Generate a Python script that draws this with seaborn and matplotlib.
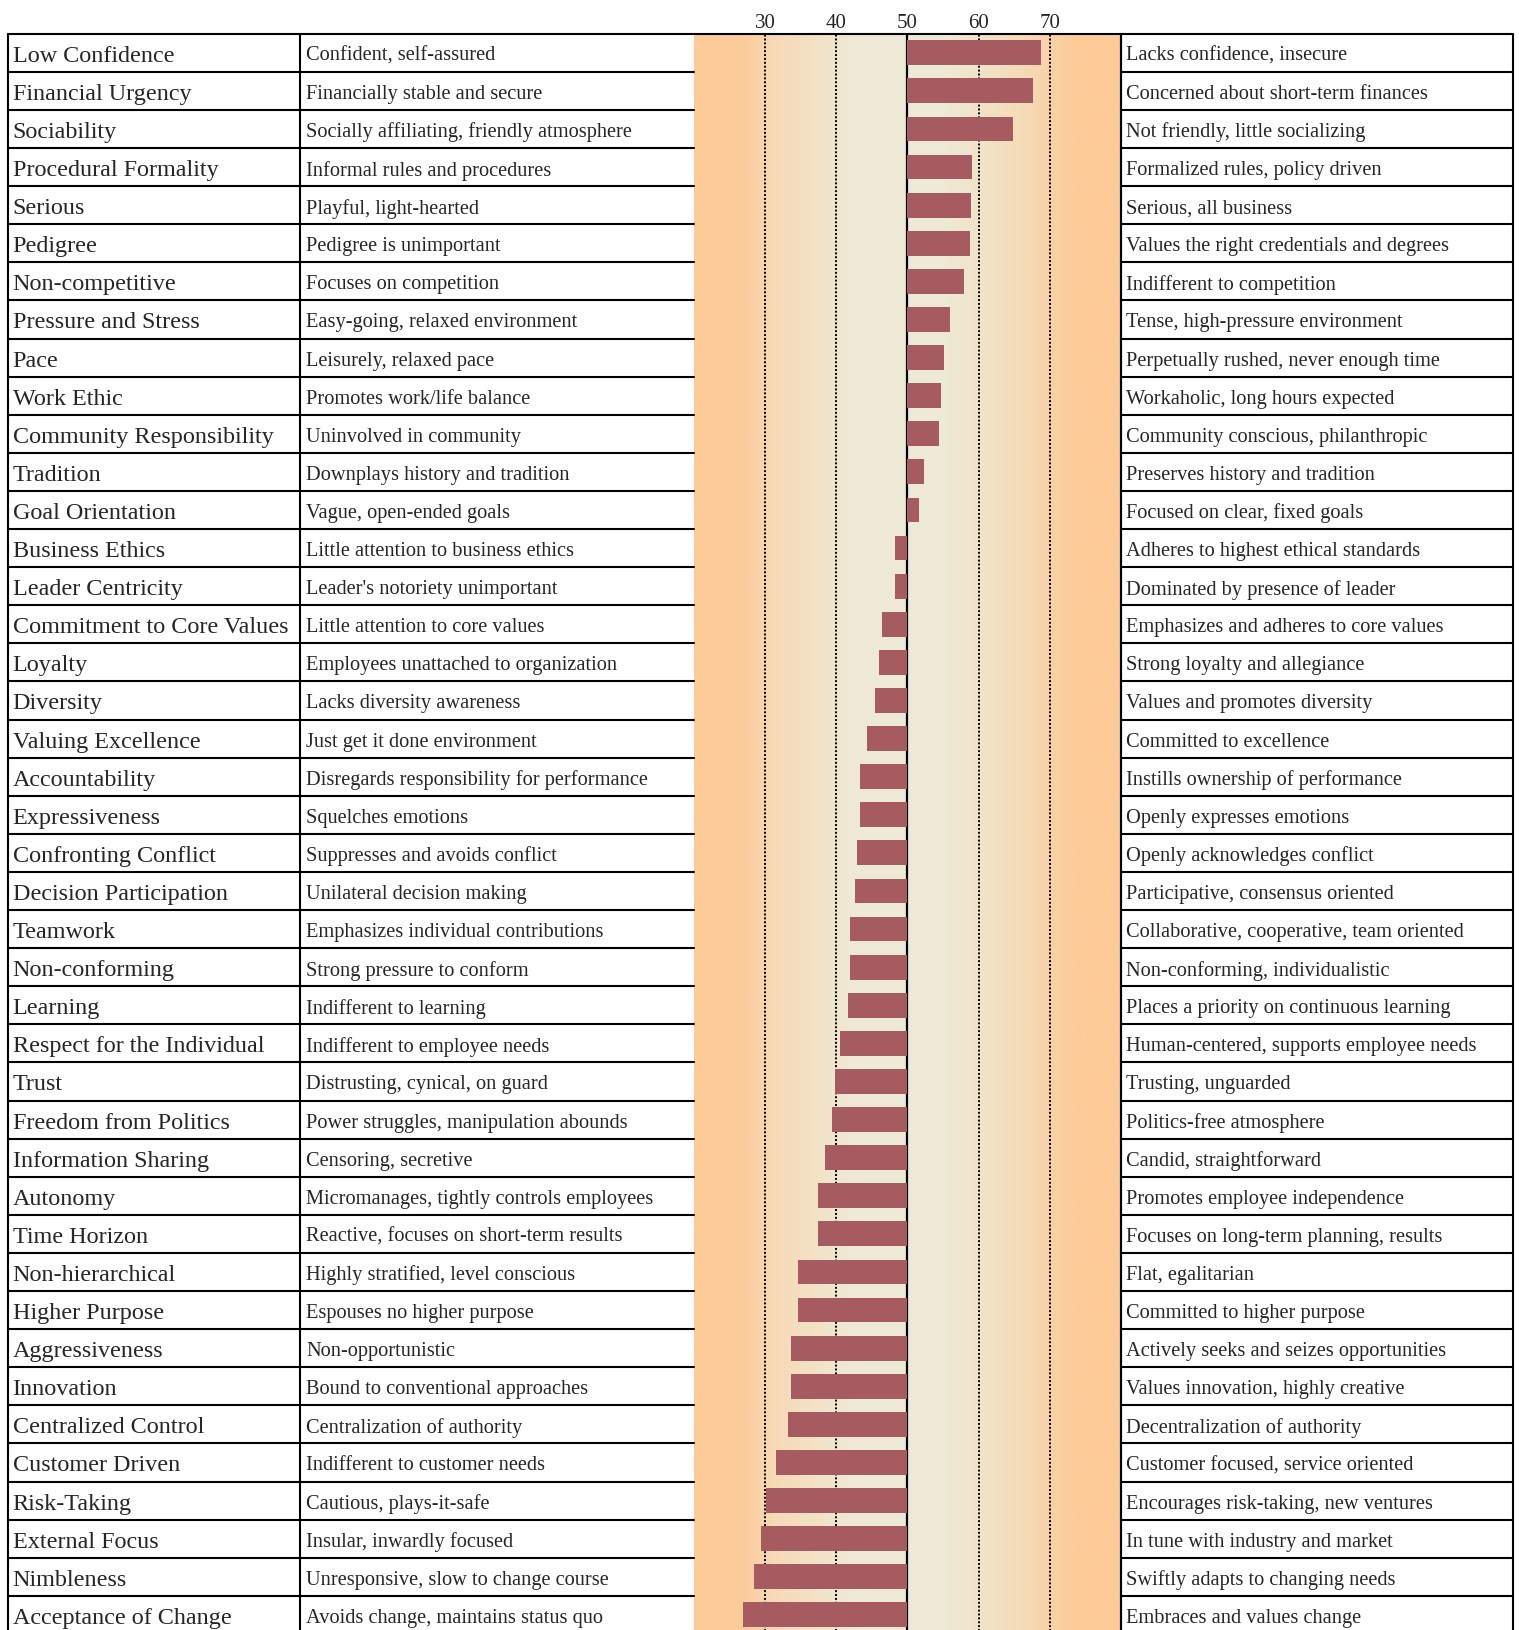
import numpy as np
import pandas as pd
import seaborn as sns
import matplotlib.pyplot as plt
import matplotlib.transforms as mtransforms
from matplotlib.colors import LinearSegmentedColormap

# culture dimensions, the two poles and the score for each
dimensions = [
    "Low Confidence", "Financial Urgency", "Sociability", "Procedural Formality",
    "Serious", "Pedigree", "Non-competitive", "Pressure and Stress", "Pace",
    "Work Ethic", "Community Responsibility", "Tradition", "Goal Orientation",
    "Business Ethics", "Leader Centricity", "Commitment to Core Values", "Loyalty",
    "Diversity", "Valuing Excellence", "Accountability", "Expressiveness",
    "Confronting Conflict", "Decision Participation", "Teamwork", "Non-conforming",
    "Learning", "Respect for the Individual", "Trust", "Freedom from Politics",
    "Information Sharing", "Autonomy", "Time Horizon", "Non-hierarchical",
    "Higher Purpose", "Aggressiveness", "Innovation", "Centralized Control",
    "Customer Driven", "Risk-Taking", "External Focus", "Nimbleness",
    "Acceptance of Change",
]
low_pole = [
    "Confident, self-assured", "Financially stable and secure",
    "Socially affiliating, friendly atmosphere", "Informal rules and procedures",
    "Playful, light-hearted", "Pedigree is unimportant", "Focuses on competition",
    "Easy-going, relaxed environment", "Leisurely, relaxed pace",
    "Promotes work/life balance", "Uninvolved in community",
    "Downplays history and tradition", "Vague, open-ended goals",
    "Little attention to business ethics", "Leader's notoriety unimportant",
    "Little attention to core values", "Employees unattached to organization",
    "Lacks diversity awareness", "Just get it done environment",
    "Disregards responsibility for performance", "Squelches emotions",
    "Suppresses and avoids conflict", "Unilateral decision making",
    "Emphasizes individual contributions", "Strong pressure to conform",
    "Indifferent to learning", "Indifferent to employee needs",
    "Distrusting, cynical, on guard", "Power struggles, manipulation abounds",
    "Censoring, secretive", "Micromanages, tightly controls employees",
    "Reactive, focuses on short-term results", "Highly stratified, level conscious",
    "Espouses no higher purpose", "Non-opportunistic",
    "Bound to conventional approaches", "Centralization of authority",
    "Indifferent to customer needs", "Cautious, plays-it-safe",
    "Insular, inwardly focused", "Unresponsive, slow to change course",
    "Avoids change, maintains status quo",
]
high_pole = [
    "Lacks confidence, insecure", "Concerned about short-term finances",
    "Not friendly, little socializing", "Formalized rules, policy driven",
    "Serious, all business", "Values the right credentials and degrees",
    "Indifferent to competition", "Tense, high-pressure environment",
    "Perpetually rushed, never enough time", "Workaholic, long hours expected",
    "Community conscious, philanthropic", "Preserves history and tradition",
    "Focused on clear, fixed goals", "Adheres to highest ethical standards",
    "Dominated by presence of leader", "Emphasizes and adheres to core values",
    "Strong loyalty and allegiance", "Values and promotes diversity",
    "Committed to excellence", "Instills ownership of performance",
    "Openly expresses emotions", "Openly acknowledges conflict",
    "Participative, consensus oriented", "Collaborative, cooperative, team oriented",
    "Non-conforming, individualistic", "Places a priority on continuous learning",
    "Human-centered, supports employee needs", "Trusting, unguarded",
    "Politics-free atmosphere", "Candid, straightforward",
    "Promotes employee independence", "Focuses on long-term planning, results",
    "Flat, egalitarian", "Committed to higher purpose",
    "Actively seeks and seizes opportunities", "Values innovation, highly creative",
    "Decentralization of authority", "Customer focused, service oriented",
    "Encourages risk-taking, new ventures", "In tune with industry and market",
    "Swiftly adapts to changing needs", "Embraces and values change",
]
scores = [
    68.7, 67.6, 64.9, 59.1, 59.0, 58.8, 57.9, 56.0, 55.2, 54.7, 54.4, 52.4,
    51.7, 48.2, 48.2, 46.5, 46.0, 45.5, 44.3, 43.4, 43.4, 43.0, 42.7, 42.0,
    42.0, 41.6, 40.5, 39.8, 39.4, 38.5, 37.5, 37.4, 34.7, 34.6, 33.7, 33.6,
    33.2, 31.5, 30.1, 29.5, 28.4, 26.9,
]
tick_values = [30, 40, 50, 60, 70]
midpoint = 50
x_range = (20, 80)

sns.set_style("white")
plt.rcParams['font.family'] = ['Liberation Serif', 'DejaVu Serif']

W, H = 1519, 1631
fig = plt.figure(figsize=(W / 100, H / 100), dpi=100)

# layout in pixels
tbl_left, col2_left, ax_left, ax_right, tbl_right = 8, 300, 693.7, 1121, 1513
top = 34.7
row_h = 38.1
n = len(dimensions)
bottom = top + n * row_h
ax = fig.add_axes([ax_left / W, 1 - bottom / H, (ax_right - ax_left) / W, (bottom - top) / H])

# background gradient, orange at the edges and pale in the middle
stops = [(20, "#FDCB98"), (27, "#FCCC9B"), (31, "#F7D9B6"), (37, "#F3E2C6"),
         (42, "#EFE9D6"), (55, "#EEEAD6"), (60, "#F1E3C9"), (66, "#F5DBB9"),
         (70, "#F9D2A7"), (74, "#FDCB98"), (80, "#FDCB98")]
cmap = LinearSegmentedColormap.from_list(
    "bg", [((v - x_range[0]) / (x_range[1] - x_range[0]), c) for v, c in stops])
grad = np.linspace(0, 1, 600)[None, :]
ax.imshow(grad, cmap=cmap, aspect="auto", zorder=0,
          extent=(x_range[0] - midpoint, x_range[1] - midpoint, n - 0.5, -0.5))

df = pd.DataFrame({"dimension": dimensions, "offset": np.array(scores) - midpoint})
sns.barplot(data=df, x="offset", y="dimension", orient="h", color="#A65B60",
            saturation=1, width=0.65, errorbar=None, linewidth=0, ax=ax, zorder=3)

for t in tick_values:
    if t == midpoint:
        ax.axvline(0, color="black", lw=1.6, zorder=2)
    else:
        ax.axvline(t - midpoint, color="black", lw=1.4, ls=(0, (1.0, 1.0)), zorder=1)

ax.set_xlim(x_range[0] - midpoint, x_range[1] - midpoint)
ax.set_ylim(n - 0.5, -0.5)
ax.xaxis.tick_top()
ax.set_xticks([t - midpoint for t in tick_values])
ax.set_xticklabels([str(t) for t in tick_values])
ax.tick_params(axis="x", length=0, pad=1.5, labelsize=15)
ax.set_yticks([])
ax.set_xlabel("")
ax.set_ylabel("")
for side in ["left", "top", "bottom"]:
    ax.spines[side].set_visible(False)
ax.spines["right"].set_color("black")
ax.spines["right"].set_linewidth(1.5)

# table drawn around the axes, rows follow the bar positions
tr = mtransforms.blended_transform_factory(fig.transFigure, ax.transData)
lw = 1.5
for i in range(n + 1):
    y = i - 0.5
    if i == 0:
        ax.plot([tbl_left / W, tbl_right / W], [y, y], color="black", lw=lw,
                transform=tr, clip_on=False, zorder=5)
    else:
        ax.plot([tbl_left / W, ax_left / W], [y, y], color="black", lw=lw,
                transform=tr, clip_on=False, zorder=5)
        ax.plot([ax_right / W, tbl_right / W], [y, y], color="black", lw=lw,
                transform=tr, clip_on=False, zorder=5)
for xv in [tbl_left, col2_left, ax_right, tbl_right]:
    ax.plot([xv / W, xv / W], [-0.5, n - 0.5], color="black", lw=lw,
            transform=tr, clip_on=False, zorder=5)

for i in range(n):
    ax.text(12.5 / W, i, dimensions[i], transform=tr, fontsize=17.4,
            va="center_baseline", ha="left", clip_on=False)
    ax.text(306 / W, i, low_pole[i], transform=tr, fontsize=14.7,
            va="center_baseline", ha="left", clip_on=False)
    ax.text(1126 / W, i, high_pole[i], transform=tr, fontsize=14.7,
            va="center_baseline", ha="left", clip_on=False)

fig.savefig("out.png", dpi=100)
